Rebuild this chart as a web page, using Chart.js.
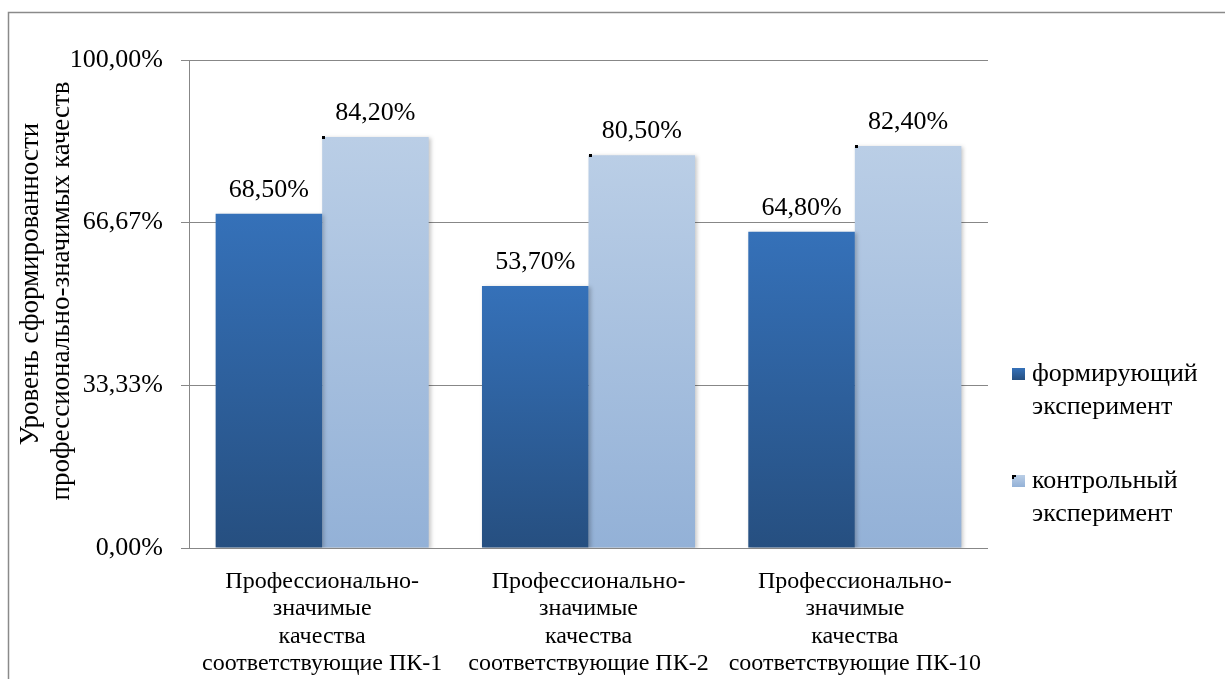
<!DOCTYPE html>
<html>
<head>
<meta charset="utf-8">
<script src="https://cdn.jsdelivr.net/npm/chart.js@4"></script>
<style>
html,body{margin:0;padding:0;background:#fff;}
#wrap{position:relative;width:1225px;height:679px;}
</style>
</head>
<body>
<div id="wrap"><canvas id="c" width="1225" height="679"></canvas></div>
<script>
const categories = [
  ['Профессионально-', 'значимые', 'качества', 'соответствующие ПК-1'],
  ['Профессионально-', 'значимые', 'качества', 'соответствующие ПК-2'],
  ['Профессионально-', 'значимые', 'качества', 'соответствующие ПК-10']
];
const seriesNames = ['формирующий эксперимент', 'контрольный эксперимент'];
const legendLines = [['формирующий', 'эксперимент'], ['контрольный', 'эксперимент']];
const formingValues = [68.5, 53.7, 64.8];
const controlValues = [84.2, 80.5, 82.4];
const yTickValues = [0, 100/3, 200/3, 100];
const yTickLabels = ['0,00%', '33,33%', '66,67%', '100,00%'];
const yTitleLines = ['Уровень сформированности', 'профессионально-значимых качеств'];

const FONT = '"Liberation Serif", "Times New Roman", serif';
const gradStops = [['#3571b9', '#264f80'], ['#bacee6', '#93b1d7']];

function barGradient(dsIndex) {
  return function (ctx) {
    const chart = ctx.chart;
    if (!chart.chartArea || ctx.raw === undefined) return gradStops[dsIndex][0];
    const ys = chart.scales.y;
    const top = ys.getPixelForValue(ctx.raw);
    const bottom = ys.getPixelForValue(0);
    const g = chart.ctx.createLinearGradient(0, top, 0, bottom);
    g.addColorStop(0, gradStops[dsIndex][0]);
    g.addColorStop(1, gradStops[dsIndex][1]);
    return g;
  };
}

function fmt(v) { return v.toFixed(2).replace('.', ',') + '%'; }

const framePlugin = {
  id: 'frame',
  beforeDraw(chart) {
    const c = chart.ctx;
    c.save();
    c.fillStyle = '#fff';
    c.fillRect(0, 0, chart.width, chart.height);
    c.strokeStyle = '#8a8a8a';
    c.lineWidth = 1.5;
    c.beginPath();
    c.moveTo(8.5, chart.height + 2);
    c.lineTo(8.5, 12.5);
    c.lineTo(chart.width + 2, 12.5);
    c.stroke();
    c.restore();
  }
};

const shadowPlugin = {
  id: 'barShadow',
  beforeDatasetsDraw(chart) {
    const c = chart.ctx;
    c.save();
    c.shadowColor = 'rgba(0,0,0,0.22)';
    c.shadowBlur = 4;
    c.shadowOffsetX = 2;
    c.shadowOffsetY = 1;
  },
  afterDatasetsDraw(chart) {
    chart.ctx.restore();
  }
};

const labelsPlugin = {
  id: 'valueLabels',
  afterDatasetsDraw(chart) {
    const c = chart.ctx;
    c.save();
    c.font = '26px ' + FONT;
    c.fillStyle = '#000';
    c.textAlign = 'center';
    c.textBaseline = 'alphabetic';
    chart.data.datasets.forEach((ds, di) => {
      const meta = chart.getDatasetMeta(di);
      meta.data.forEach((el, i) => {
        c.fillText(fmt(ds.data[i]), el.x, el.y - 17);
        if (di === 1) {
          // tiny dark corner mark seen on the light bars
          c.fillRect(Math.round(el.x - el.width / 2), Math.round(el.y) - 1, 3, 3);
        }
      });
    });
    c.restore();
  }
};

const sidePlugin = {
  id: 'sideTexts',
  afterDraw(chart) {
    const c = chart.ctx;
    c.save();
    c.fillStyle = '#000';
    // y-axis title
    c.font = '27px ' + FONT;
    c.textAlign = 'center';
    c.textBaseline = 'middle';
    const centers = [284, 291];
    const xs = [31, 62];
    yTitleLines.forEach((line, i) => {
      c.save();
      c.translate(xs[i], centers[i]);
      c.rotate(-Math.PI / 2);
      c.fillText(line, 0, 0);
      c.restore();
    });
    // legend
    c.font = '26px ' + FONT;
    c.textAlign = 'left';
    c.textBaseline = 'middle';
    const entryTops = [374, 481];
    chart.data.datasets.forEach((ds, di) => {
      const y0 = entryTops[di];
      const g = c.createLinearGradient(0, y0 - 6, 0, y0 + 6);
      g.addColorStop(0, gradStops[di][0]);
      g.addColorStop(1, gradStops[di][1]);
      c.fillStyle = g;
      c.fillRect(1012, y0 - 6, 13, 12);
      if (di === 1) {
        c.fillStyle = '#000';
        c.fillRect(1012, y0 - 6, 4, 2);
        c.fillRect(1012, y0 - 6, 2, 4);
      }
      c.fillStyle = '#000';
      legendLines[di].forEach((ln, k) => {
        c.fillText(ln, 1032, y0 + k * 33);
      });
    });
    c.restore();
  }
};

new Chart(document.getElementById('c'), {
  type: 'bar',
  data: {
    labels: categories,
    datasets: [
      { label: seriesNames[0], data: formingValues, backgroundColor: barGradient(0), borderWidth: 0 },
      { label: seriesNames[1], data: controlValues, backgroundColor: barGradient(1), borderWidth: 0 }
    ]
  },
  options: {
    responsive: false,
    animation: false,
    devicePixelRatio: 1,
    layout: { padding: { left: 0, top: 60, right: 237, bottom: 0 } },
    plugins: { legend: { display: false }, tooltip: { enabled: false } },
    datasets: { bar: { categoryPercentage: 0.8, barPercentage: 1.0 } },
    scales: {
      x: {
        grid: { display: false, drawTicks: false },
        border: { display: false },
        ticks: {
          color: '#000',
          font: { family: FONT, size: 24, lineHeight: 1.14 },
          padding: 20,
          maxRotation: 0,
          autoSkip: false
        },
        afterFit(scale) { scale.height = 131; }
      },
      y: {
        min: 0,
        max: 100,
        afterBuildTicks(scale) { scale.ticks = yTickValues.map(v => ({ value: v })); },
        grid: { color: '#878787', lineWidth: 1, tickLength: 8, drawTicks: true },
        border: { display: true, color: '#878787', width: 1 },
        ticks: {
          color: '#000',
          font: { family: FONT, size: 26 },
          padding: 18,
          callback: (v, i) => yTickLabels[i]
        },
        afterFit(scale) { scale.width = 189; }
      }
    }
  },
  plugins: [framePlugin, shadowPlugin, labelsPlugin, sidePlugin]
});
</script>
</body>
</html>
